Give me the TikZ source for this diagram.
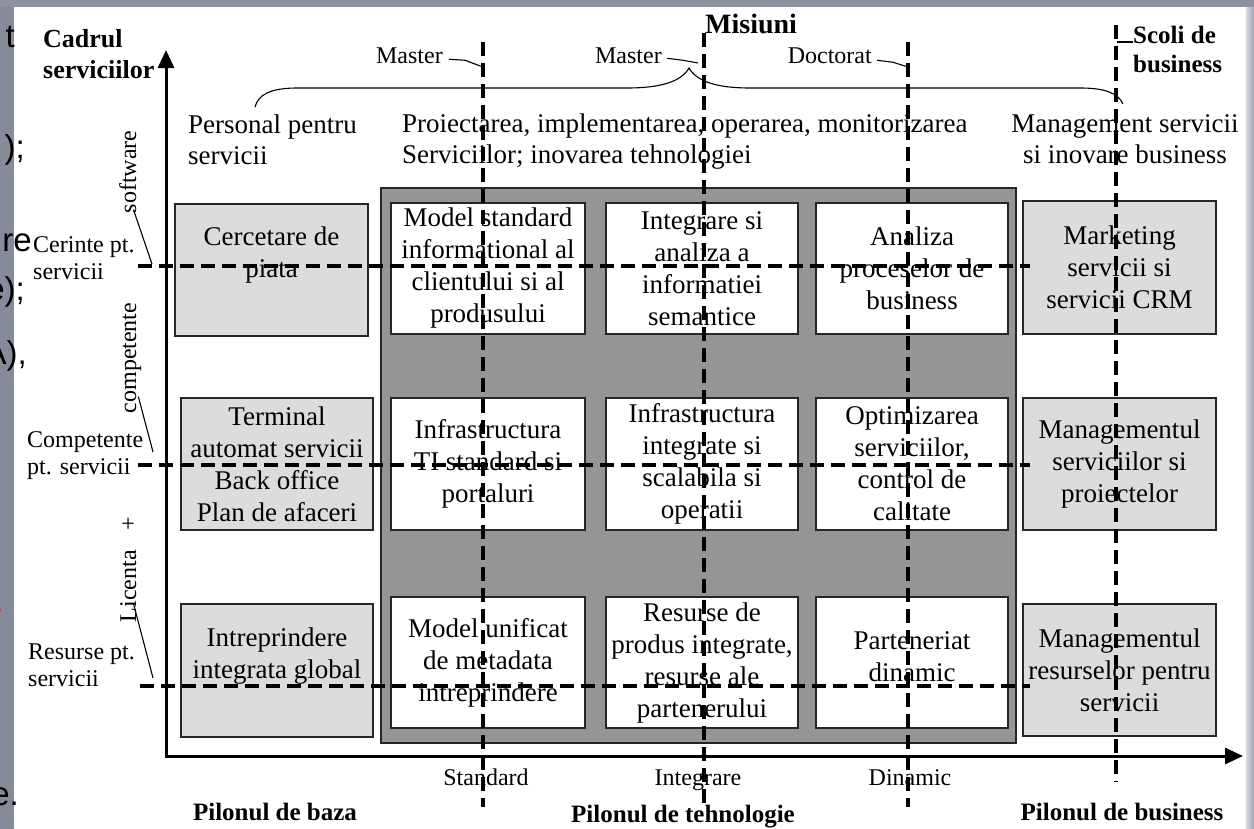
\documentclass[tikz,border=0pt]{standalone}
\usepackage{fontspec}
\setmainfont{Liberation Serif}
\newfontfamily\slidefont{Liberation Sans}
\usetikzlibrary{arrows.meta}

\definecolor{slidedark}{HTML}{868B9A}
\definecolor{slidelight}{HTML}{D8D8DC}
\definecolor{slidetop}{HTML}{8E929E}
\definecolor{slideedge}{HTML}{A0A4AE}
\definecolor{pillarfill}{HTML}{DCDCDC}
\definecolor{techfill}{HTML}{959595}
\definecolor{edgeline}{HTML}{262626}
\definecolor{slidered}{HTML}{E0282E}

\tikzset{
  cellbox/.style={draw=edgeline, line width=1.6pt, inner sep=0pt, align=center,
    font=\fontsize{27}{32}\selectfont},
  pillarbox/.style={cellbox, fill=pillarfill},
  techbox/.style={cellbox, fill=white},
  techpanel/.style={draw=edgeline, line width=1.6pt, fill=techfill, inner sep=0pt},
  celltext/.style={inner sep=0pt, align=center, font=\fontsize{27}{32}\selectfont},
  bodytext/.style={inner sep=0pt, font=\fontsize{27}{31}\selectfont},
  smalltext/.style={inner sep=0pt, font=\fontsize{24}{27}\selectfont},
  headtext/.style={inner sep=0pt, font=\bfseries\fontsize{25}{29}\selectfont},
  gridline/.style={line width=3.6pt, dash pattern=on 14pt off 7pt},
  leader/.style={line width=1.1pt},
  axisline/.style={line width=3pt, -{Triangle[length=18pt,width=16pt]}},
  slidetext/.style={inner sep=0pt, font=\slidefont\fontsize{33}{38}\selectfont},
}

\begin{document}
\begin{tikzpicture}[x=1pt, y=-1pt]
\useasboundingbox (0,0) rectangle (1254,828);

% slide background around the figure
\shade[top color=slidedark, middle color=slidelight, bottom color=slidedark]
  (0,0) rectangle (14,828);
\shade[left color=slidelight, right color=slideedge] (1246,0) rectangle (1254,828);
\fill[slidetop] (0,0) rectangle (1254,7);
\fill[white] (14,7) rectangle (1246,828);

% slide text running in from the left
\begin{scope}
  \clip (0,0) rectangle (1254,828);
  \node[slidetext, anchor=base east] (s1) at (15,47) {t};
  \node[slidetext, anchor=base east] (s2) at (25,158) {);};
  \node[slidetext, anchor=base east] (s3) at (32,251) {re};
  \node[slidetext, anchor=base east] (s4) at (25,300) {e);};
  \node[slidetext, anchor=base east] (s5) at (27,364) {A),};
  \node[slidetext, anchor=base east, text=slidered] (s6) at (4,612) {.};
  \node[slidetext, anchor=base east] (s7) at (19,805) {e.};
\end{scope}

% technology pillar panel
\node[techpanel, minimum width=635pt, minimum height=555pt] (tech) at (698.5,465.5) {};

% base pillar
\node[pillarbox, minimum width=193pt, minimum height=132pt] (cerc) at (271.5,270) {};
\node[celltext] (cerc-t) at (271.5,255) {Cercetare de\\piata};
\node[pillarbox, minimum width=192pt, minimum height=132pt] (term) at (277,464)
  {Terminal\\automat servicii\\Back office\\Plan de afaceri};
\node[pillarbox, minimum width=192pt, minimum height=133pt] (intr) at (277,670.5) {};
\node[celltext] (intr-t) at (277,656) {Intreprindere\\integrata global};

% technology cells
\node[techbox, minimum width=194pt, minimum height=131pt] (m11) at (488,268.5)
  {Model standard\\informational al\\clientului si al\\produsului};
\node[techbox, minimum width=192pt, minimum height=131pt] (m12) at (702,268.5)
  {Integrare si\\analiza a\\informatiei\\semantice};
\node[techbox, minimum width=192pt, minimum height=131pt] (m13) at (912,268.5)
  {Analiza\\proceselor de\\business};
\node[techbox, minimum width=194pt, minimum height=132pt] (m21) at (488,464)
  {Infrastructura\\TI standard si\\portaluri};
\node[techbox, minimum width=192pt, minimum height=132pt] (m22) at (702,464)
  {Infrastructura\\integrate si\\scalabila si\\operatii};
\node[techbox, minimum width=192pt, minimum height=132pt] (m23) at (912,464)
  {Optimizarea\\serviciilor,\\control de\\calitate};
\node[techbox, minimum width=194pt, minimum height=131pt] (m31) at (488,662.5)
  {Model unificat\\de metadata\\intreprindere};
\node[techbox, minimum width=192pt, minimum height=131pt] (m32) at (702,662.5)
  {Resurse de\\produs integrate,\\resurse ale\\partenerului};
\node[techbox, minimum width=192pt, minimum height=131pt] (m33) at (912,662.5) {};
\node[celltext] (m33-t) at (912,657) {Parteneriat\\dinamic};

% business pillar
\node[pillarbox, minimum width=193pt, minimum height=133pt] (mkt) at (1119.5,267.5)
  {Marketing\\servicii si\\servicii CRM};
\node[pillarbox, minimum width=193pt, minimum height=132pt] (mgs) at (1119.5,464)
  {Managementul\\serviciilor si\\proiectelor};
\node[pillarbox, minimum width=193pt, minimum height=132pt] (mgr) at (1119.5,670)
  {Managementul\\resurselor pentru\\servicii};

% axes
\coordinate (origin) at (166,756);
\coordinate (ytip) at (166,50);
\coordinate (xtip) at (1243,756);
\draw[axisline, line cap=rect] (origin) -- (ytip);
\draw[axisline, line cap=rect] (origin) -- (xtip);

% headings and labels (multi-line nodes sit on their last baseline)
\node[headtext, font=\bfseries\fontsize{26}{31}\selectfont, align=left, anchor=base west]
  (cadru) at (43,78) {Cadrul\\serviciilor};
\node[headtext, font=\bfseries\fontsize{28}{32}\selectfont, anchor=base west]
  (misiuni) at (705,33) {Misiuni};
\node[headtext, anchor=base west] (scoli1) at (1133,43) {Scoli de};
\node[headtext, anchor=base west] (scoli2) at (1133,72) {business};

\node[smalltext, anchor=base east] (master1) at (443,63) {Master};
\node[smalltext, anchor=base east] (master2) at (662,63) {Master};
\node[smalltext, anchor=base east] (doct) at (872,63) {Doctorat};

\node[bodytext, align=left, anchor=base west] (pers) at (188,164)
  {Personal pentru\\servicii};
\node[bodytext, align=left, anchor=base west] (proi) at (402,163)
  {Proiectarea, implementarea, operarea, monitorizarea\\Serviciilor; inovarea tehnologiei};
\node[bodytext, align=center, anchor=base] (mgmt) at (1125,163)
  {Management servicii\\si inovare business};

\node[smalltext, align=left, anchor=base west] (cer) at (33,279) {Cerinte pt.\\servicii};
\node[smalltext, align=left, anchor=base west] (com) at (27,474) {Competente\\pt. servicii};
\node[smalltext, align=left, anchor=base west] (res) at (28,686) {Resurse pt.\\servicii};

\node[smalltext, rotate=90, anchor=base] (soft) at (136,172) {software};
\node[smalltext, rotate=90, anchor=base] (comp) at (136,358) {competente};
\node[smalltext, rotate=90, anchor=base] (lic) at (136,569.5) {Licenta\hspace{20pt}+};

\node[smalltext, anchor=base] (std) at (486,785) {Standard};
\node[smalltext, anchor=base] (integ) at (698,785) {Integrare};
\node[smalltext, anchor=base] (din) at (910,785) {Dinamic};

\node[headtext, anchor=base] (pbaza) at (275,820) {Pilonul de baza};
\node[headtext, anchor=base] (ptehn) at (683,822) {Pilonul de tehnologie};
\node[headtext, anchor=base] (pbus) at (1122,820) {Pilonul de business};

% brace grouping the missions
\draw[leader] (255,107) .. controls (258,95) and (270,88) .. (297,88) -- (627,88)
  .. controls (660,88) and (681,82) .. (689,68)
  .. controls (697,82) and (718,88) .. (750,88) -- (1080,88)
  .. controls (1105,88) and (1118,93) .. (1123,104);

% dashed grid
\coordinate (v1n) at (483,42);   \coordinate (v1s) at (483,807);
\coordinate (v2n) at (704,33);   \coordinate (v2s) at (704,805);
\coordinate (v3n) at (908,42);   \coordinate (v3s) at (908,807);
\coordinate (v4n) at (1116,25);  \coordinate (v4s) at (1116,782);
\coordinate (h1w) at (138,266);  \coordinate (h1e) at (1030,266);
\coordinate (h2w) at (138,465);  \coordinate (h2e) at (1030,465);
\coordinate (h3w) at (140,686);  \coordinate (h3e) at (1030,686);
\foreach \a/\b in {v1n/v1s, v2n/v2s, v3n/v3s, v4n/v4s, h1w/h1e, h2w/h2e, h3w/h3e}
  \draw[gridline] (\a) -- (\b);

% leader lines from labels to the grid
\coordinate (v1m) at (483,67);
\coordinate (v2m) at (698,63);
\coordinate (v3m) at (908,67);
\coordinate (v4m) at (1117,42);
\coordinate (h1s) at (152,264);
\coordinate (h2s) at (153,452);
\coordinate (h3s) at (153,678);
\draw[leader] ([shift={(6,4)}]master1.east) -- ++(16,1) -- (v1m);
\draw[leader] ([shift={(5,3)}]master2.east) -- ++(16,2) -- (v2m);
\draw[leader] ([shift={(5,5)}]doct.east) -- ++(16,2) -- (v3m);
\draw[leader] (v4m) -- (v4m -| scoli1.west);
\draw[leader] ([shift={(-3,-4)}]soft.south west) -- (h1s);
\draw[leader] ([shift={(-3,-17)}]comp.south west) -- (h2s);
\draw[leader] ([shift={(-3,-19)}]lic.south west) -- (h3s);
\end{tikzpicture}
\end{document}
